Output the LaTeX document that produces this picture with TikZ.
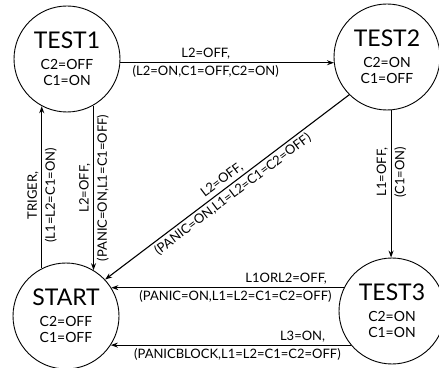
\documentclass[tikz,border=0pt]{standalone}
\usepackage{fontspec}
\setmainfont{Lato}
\usetikzlibrary{arrows.meta,calc}

\tikzset{
  state/.style={draw, circle, line width=0.9pt, minimum size=106pt, inner sep=0pt,
                align=center, font=\fontsize{14}{16.5}\selectfont},
  tip/.style={Stealth[length=7pt,width=5pt]},
  trans/.style={line width=1.1pt, -{Stealth[length=7pt,width=5pt]}},
  rtrans/.style={line width=1.1pt, {Stealth[length=7pt,width=5pt]}-},
  lbl/.style={font=\fontsize{13}{15}\selectfont, inner sep=2.6pt},
}
\newcommand{\statetitle}[1]{{\fontsize{23}{23}\selectfont #1}\\[4pt]}

\begin{document}
\begin{tikzpicture}[x=1pt,y=1pt]
  \useasboundingbox (0,0) rectangle (439,367);

  % states
  \node[state] (t1)    at (67,308) {\statetitle{TEST1}C2=OFF\\C1=ON};
  \node[state] (t2)    at (387,310) {\statetitle{TEST2}C2=ON\\C1=OFF};
  \node[state] (start) at (66,51)  {\statetitle{START}C2=OFF\\C1=OFF};
  \node[state] (t3)    at (392,56) {\statetitle{TEST3}C2=ON\\C1=ON};

  % TEST1 -> TEST2
  \draw[trans] (t1.-4) -- (t1.-4 -| t2.187)
    node[lbl, pos=0.4, above] {L2=OFF,}
    node[lbl, pos=0.4, below] {(L2=ON,C1=OFF,C2=ON)};

  % START -> TEST1
  \draw[trans] (start.117) -- (start.117 |- t1.-118)
    node[lbl, pos=0.45, sloped, above] {TRIGER,}
    node[lbl, pos=0.45, sloped, below] {(L1=L2=C1=ON)};

  % TEST1 -> START
  \draw[rtrans] (start.59) -- (start.59 |- t1.-61)
    node[lbl, pos=0.5, sloped, above] {L2=OFF,}
    node[lbl, pos=0.5, sloped, below] {(PANIC=ON,L1=C1=OFF)};

  % TEST2 -> START
  \draw[rtrans] (start.43) -- (t2.225)
    node[lbl, pos=0.5, sloped, above] {L2=OFF,}
    node[lbl, pos=0.5, sloped, below] {(PANIC=ON,L1=L2=C1=C2=OFF)};

  % TEST2 -> TEST3
  \draw[rtrans] (t3.91) -- (t3.91 |- t2.-86)
    node[lbl, pos=0.58, sloped, above] {L1=OFF,}
    node[lbl, pos=0.58, sloped, below] {(C1=ON)};

  % TEST3 -> START, two transitions
  \draw[rtrans] (start.32) -- (start.32 -| t3.154)
    node[lbl, pos=0.94, anchor=south east] {L1ORL2=OFF,}
    node[lbl, pos=0.96, anchor=north east] {(PANIC=ON,L1=L2=C1=C2=OFF)};
  \draw[rtrans] (start.-33) -- (start.-33 -| t3.220)
    node[lbl, pos=0.905, anchor=south east] {L3=ON,}
    node[lbl, pos=0.97, anchor=north east] {(PANICBLOCK,L1=L2=C1=C2=OFF)};
\end{tikzpicture}
\end{document}
